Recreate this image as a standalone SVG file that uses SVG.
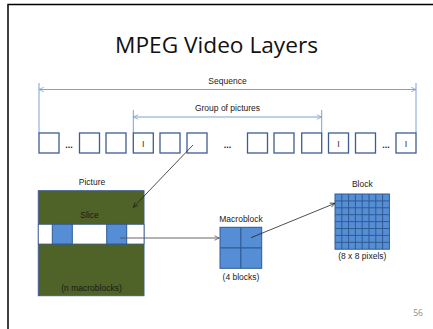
<svg xmlns="http://www.w3.org/2000/svg" width="433" height="329" viewBox="0 0 433 329">
<defs>
<style>
.lbl{font-family:"Liberation Sans",Arial,sans-serif;font-size:8.5px;fill:#1a1a1a;text-anchor:middle}
.fr{fill:#fff;stroke:#3d5d91;stroke-width:1.3}
.itxt{font-family:"Liberation Sans",Arial,sans-serif;font-size:9px;fill:#333;text-anchor:middle}
.dots{font-family:"Liberation Sans",Arial,sans-serif;font-size:9px;font-weight:bold;fill:#222;text-anchor:middle}
.dim{stroke:#7ea1d3;stroke-width:1;fill:none}
.blue{fill:#558ed5;stroke:#2f5b93;stroke-width:1}
</style>
<marker id="ob" viewBox="0 0 8 8" refX="7.5" refY="4" markerWidth="6" markerHeight="6" orient="auto-start-reverse" markerUnits="userSpaceOnUse">
<path d="M1,1 L7.5,4 L1,7" fill="none" stroke="#7ea1d3" stroke-width="1"/>
</marker>
<marker id="ab" viewBox="0 0 8 8" refX="7.5" refY="4" markerWidth="6" markerHeight="6" orient="auto" markerUnits="userSpaceOnUse">
<path d="M1,1 L7.5,4 L1,7" fill="none" stroke="#222" stroke-width="1"/>
</marker>
<marker id="ag" viewBox="0 0 8 8" refX="7.5" refY="4" markerWidth="6" markerHeight="6" orient="auto" markerUnits="userSpaceOnUse">
<path d="M1,1 L7.5,4 L1,7" fill="none" stroke="#555" stroke-width="1"/>
</marker>
</defs>
<rect x="0" y="0" width="433" height="329" fill="#fff"/>
<path d="M8,340 V4.5 H440" fill="none" stroke="#000" stroke-width="1.5"/>
<text x="216.5" y="53" font-family="'Open Sans','Liberation Sans',sans-serif" font-size="21" fill="#111" text-anchor="middle" textLength="203" lengthAdjust="spacingAndGlyphs">MPEG Video Layers</text>
<text x="418" y="316" font-family="'Open Sans','Liberation Sans',sans-serif" font-size="8.5" fill="#8c8c8c" text-anchor="middle">56</text>

<g id="sequence">
<path class="dim" d="M39,83 V133 M416,83 V133"/>
<line class="dim" x1="39" y1="89.5" x2="416" y2="89.5" marker-start="url(#ob)" marker-end="url(#ob)"/>
<text class="lbl" x="227.5" y="84">Sequence</text>
</g>
<g id="gop">
<path class="dim" d="M133.3,110 V133 M321.7,110 V133"/>
<line class="dim" x1="133.3" y1="117" x2="321.7" y2="117" marker-start="url(#ob)" marker-end="url(#ob)"/>
<text class="lbl" x="227.5" y="110.5">Group of pictures</text>
</g>

<g id="frames">
<rect class="fr" x="39" y="133" width="20" height="20"/>
<text class="dots" x="69" y="148">...</text>
<rect class="fr" x="79.5" y="133" width="20" height="20"/>
<rect class="fr" x="106" y="133" width="20" height="20"/>
<rect class="fr" x="133.3" y="133" width="20" height="20"/>
<text class="itxt" x="143.3" y="146.5">I</text>
<rect class="fr" x="160" y="133" width="20" height="20"/>
<rect class="fr" x="187" y="133" width="20" height="20"/>
<text class="dots" x="227.5" y="148">...</text>
<rect class="fr" x="247.5" y="133" width="20" height="20"/>
<rect class="fr" x="274" y="133" width="20" height="20"/>
<rect class="fr" x="301.7" y="133" width="20" height="20"/>
<rect class="fr" x="328.5" y="133" width="20" height="20"/>
<text class="itxt" x="338.5" y="146.5">I</text>
<rect class="fr" x="355.5" y="133" width="20" height="20"/>
<text class="dots" x="386" y="148">...</text>
<rect class="fr" x="396" y="133" width="20" height="20"/>
<text class="itxt" x="406" y="146.5">I</text>
</g>

<g id="picture">
<text class="lbl" x="92" y="184.5">Picture</text>
<rect x="38.3" y="190.7" width="105.7" height="105" fill="#4f6228" stroke="#3d5d91" stroke-width="1"/>
<rect x="38.3" y="224.3" width="105.7" height="19.7" fill="#fff" stroke="#3d5d91" stroke-width="0.8"/>
<rect class="blue" x="52.3" y="224.3" width="20" height="19.7"/>
<rect class="blue" x="106.7" y="224.3" width="20" height="19.7"/>
<text class="lbl" x="89.5" y="218">Slice</text>
<text class="lbl" x="91.5" y="291">(n macroblocks)</text>
</g>

<g id="macroblock">
<text class="lbl" x="241" y="222">Macroblock</text>
<rect class="blue" x="220" y="227.3" width="41.7" height="41" stroke-width="1.2"/>
<path d="M240.8,227.3 V268.3 M220,247.8 H261.7" stroke="#2f5b93" stroke-width="1.2"/>
<text class="lbl" x="241" y="280">(4 blocks)</text>
</g>

<g id="block">
<text class="lbl" x="362.3" y="187">Block</text>
<rect class="blue" x="335" y="194" width="54.4" height="55.2"/>
<path d="M341.8,194 V249.2 M348.6,194 V249.2 M355.4,194 V249.2 M362.2,194 V249.2 M369,194 V249.2 M375.8,194 V249.2 M382.6,194 V249.2 M335,200.9 H389.4 M335,207.8 H389.4 M335,214.7 H389.4 M335,221.6 H389.4 M335,228.5 H389.4 M335,235.4 H389.4 M335,242.3 H389.4" stroke="#2f5b93" stroke-width="1"/>
<text class="lbl" x="362.3" y="259">(8 x 8 pixels)</text>
</g>

<g id="connectors">
<line x1="193" y1="145" x2="133.3" y2="207.3" stroke="#222" stroke-width="0.8" marker-end="url(#ab)"/>
<line x1="120" y1="238" x2="219.3" y2="238" stroke="#555" stroke-width="0.9" marker-end="url(#ag)"/>
<line x1="251" y1="237.7" x2="335" y2="203.3" stroke="#222" stroke-width="0.8" marker-end="url(#ab)"/>
</g>
</svg>
